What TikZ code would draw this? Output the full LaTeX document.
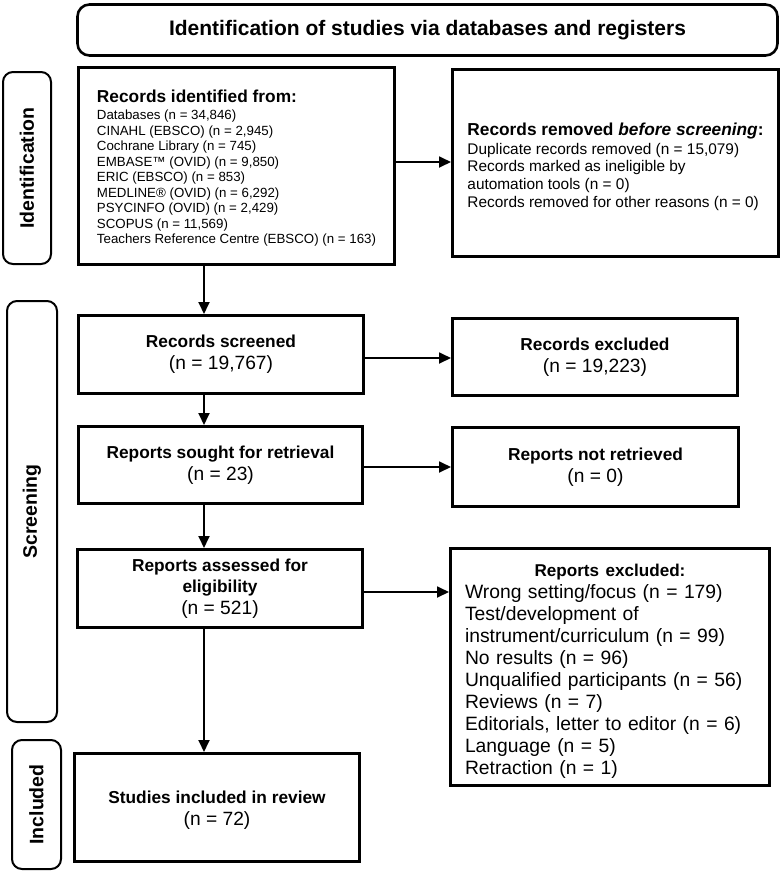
\documentclass[tikz,border=0pt]{standalone}
\usepackage{fontspec}
\setmainfont{Liberation Sans}
\usetikzlibrary{arrows.meta}
\begin{document}
\begin{tikzpicture}[x=1pt,y=-1pt,
  box/.style={draw, line width=3pt, inner sep=0pt},
  sidelab/.style={draw, line width=2pt, rounded corners=10pt, inner sep=0pt},
  sidetext/.style={rotate=90, font=\fontsize{19.5}{22}\selectfont\bfseries},
  arr/.style={line width=1.8pt, -{Triangle[length=12pt,width=11pt]}},
  small/.style={align=center, font=\fontsize{19.2}{22}\selectfont}]
\useasboundingbox (0,0) rectangle (780,871);
% title
\node[draw, line width=2.6pt, rounded corners=12pt, minimum width=700pt, minimum height=51pt,
  font=\fontsize{21}{24}\selectfont\bfseries] (title) at (427.5,30) {Identification of studies via databases and registers};
% side labels
\node[sidelab, minimum width=48pt, minimum height=192pt] (lid) at (27,168) {};
\node[sidetext] (tid) at (lid.center) {Identification};
\node[sidelab, minimum width=50pt, minimum height=421pt] (lscr) at (32,511.5) {};
\node[sidetext] (tscr) at (lscr.center) {Screening};
\node[sidelab, minimum width=49pt, minimum height=129pt] (linc) at (36.5,804.5) {};
\node[sidetext] (tinc) at (linc.center) {Included};
% identification boxes
\node[box, minimum width=316pt, minimum height=197pt, align=left,
  font=\fontsize{13.3}{15.5}\selectfont] (id) at (236.5,166)
  {{\fontsize{17.3}{19}\selectfont\bfseries\rule{0pt}{17pt}Records identified from:}\\[1.5pt]
   Databases (n = 34,846)\\
   CINAHL (EBSCO) (n = 2,945)\\
   Cochrane Library (n = 745)\\
   EMBASE™ (OVID) (n = 9,850)\\
   ERIC (EBSCO) (n = 853)\\
   MEDLINE® (OVID) (n = 6,292)\\
   PSYCINFO (OVID) (n = 2,429)\\
   SCOPUS (n = 11,569)\\
   Teachers Reference Centre (EBSCO) (n = 163)};
\node[box, minimum width=326pt, minimum height=187pt, align=left,
  font=\fontsize{15.4}{17.7}\selectfont] (rem) at (615.5,163)
  {{\fontsize{17.3}{19}\selectfont\bfseries\rule{0pt}{20pt}Records removed \textit{before screening}:}\\[1pt]
   Duplicate records removed (n = 15,079)\\
   Records marked as ineligible by\\
   automation tools (n = 0)\\
   Records removed for other reasons (n = 0)};
% screening boxes
\node[box, small, minimum width=285pt, minimum height=78pt] (scr) at (221,354.5)
  {{\fontsize{17.3}{19}\selectfont\bfseries Records screened}\\(n = 19,767)};
\node[box, small, minimum width=285pt, minimum height=77pt] (exc) at (595,357)
  {{\fontsize{17.3}{19}\selectfont\bfseries Records excluded}\\(n = 19,223)};
\node[box, small, minimum width=284pt, minimum height=77pt] (sou) at (220.5,465)
  {{\fontsize{17.3}{19}\selectfont\bfseries Reports sought for retrieval}\\(n = 23)};
\node[box, small, minimum width=286pt, minimum height=79pt] (nre) at (595.5,467)
  {{\fontsize{17.3}{19}\selectfont\bfseries Reports not retrieved}\\(n = 0)};
\node[box, small, minimum width=285pt, minimum height=78pt] (ass) at (220,588.5)
  {{\fontsize{17.3}{19}\selectfont\bfseries Reports assessed for}\\[-1pt]{\fontsize{17.3}{19}\selectfont\bfseries eligibility}\\(n = 521)};
\node[box, minimum width=319pt, minimum height=237pt, text width=290pt, align=left,
  font=\fontsize{19.3}{22}\selectfont] (rex) at (610,667)
  {\hbox to\hsize{\hss\fontsize{17.1}{19}\selectfont\bfseries\rule{0pt}{21pt}Reports excluded:\hss}
   Wrong setting/focus (n = 179)\\
   Test/development of\\
   instrument/curriculum (n = 99)\\
   No results (n = 96)\\
   Unqualified participants (n = 56)\\
   Reviews (n = 7)\\
   Editorials, letter to editor (n = 6)\\
   Language (n = 5)\\
   Retraction (n = 1)};
% included
\node[box, small, minimum width=285pt, minimum height=108pt] (inc) at (217,807.5)
  {{\fontsize{17.3}{19}\selectfont\bfseries\rule{0pt}{18pt}Studies included in review}\\(n = 72)};
% connector guides
\coordinate (vx) at (204,0);
\coordinate (h1) at (0,162);
\coordinate (h2) at (0,358);
\coordinate (h3) at (0,467);
\coordinate (h4) at (0,592);
% arrows
\draw[arr] (id.east |- h1) -- (rem.west |- h1);
\draw[arr] (scr.east |- h2) -- (exc.west |- h2);
\draw[arr] (sou.east |- h3) -- (nre.west |- h3);
\draw[arr] (ass.east |- h4) -- (rex.west |- h4);
\draw[arr] (id.south -| vx) -- (scr.north -| vx);
\draw[arr] (scr.south -| vx) -- (sou.north -| vx);
\draw[arr] (sou.south -| vx) -- (ass.north -| vx);
\draw[arr] (ass.south -| vx) -- (inc.north -| vx);
\end{tikzpicture}
\end{document}
